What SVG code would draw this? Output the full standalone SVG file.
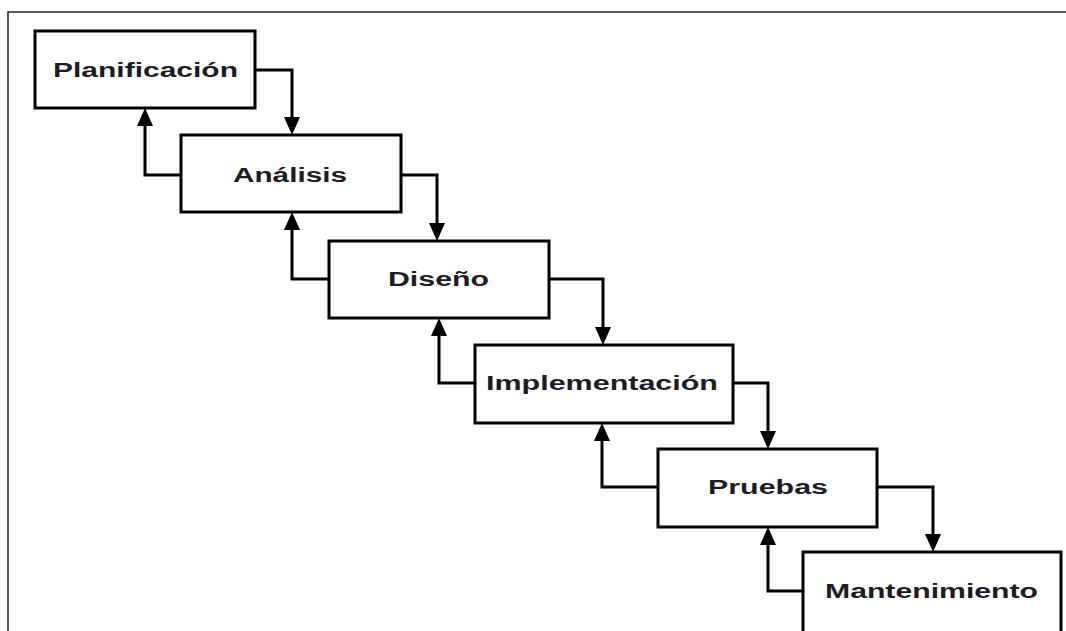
<svg xmlns="http://www.w3.org/2000/svg" width="1066" height="631" viewBox="0 0 1066 631">
  <style>
    .box { fill: #ffffff; stroke: #000000; stroke-width: 3; }
    .lbl { font-family: "Liberation Sans", Arial, sans-serif; font-weight: bold; font-size: 20px; fill: #1c1c26; text-anchor: middle; }
    .con { fill: none; stroke: #000000; stroke-width: 3; marker-end: url(#ah); }
    .frame { fill: none; stroke: #222222; stroke-width: 1.5; }
  </style>
  <defs>
    <marker id="ah" viewBox="0 0 18 16" refX="0" refY="8" markerWidth="18" markerHeight="16" markerUnits="userSpaceOnUse" orient="auto">
      <path d="M0,0 L18,8 L0,16 z" fill="#000000"/>
    </marker>
  </defs>
  <rect x="0" y="0" width="1066" height="631" fill="#ffffff"/>
  <path class="frame" d="M1066,12 H8 V631"/>

  <g id="planificacion">
    <rect class="box" x="35" y="31" width="220" height="77"/>
    <text class="lbl" x="145.5" y="77" textLength="185" lengthAdjust="spacingAndGlyphs">Planificación</text>
  </g>
  <g id="analisis">
    <rect class="box" x="181" y="135" width="220" height="77"/>
    <text class="lbl" x="290" y="182" textLength="114" lengthAdjust="spacingAndGlyphs">Análisis</text>
  </g>
  <g id="diseno">
    <rect class="box" x="329" y="241" width="220" height="77"/>
    <text class="lbl" x="438.5" y="286" textLength="101" lengthAdjust="spacingAndGlyphs">Diseño</text>
  </g>
  <g id="implementacion">
    <rect class="box" x="475" y="345" width="258" height="78"/>
    <text class="lbl" x="602" y="390" textLength="232" lengthAdjust="spacingAndGlyphs">Implementación</text>
  </g>
  <g id="pruebas">
    <rect class="box" x="658" y="449" width="219" height="78"/>
    <text class="lbl" x="768" y="494" textLength="120" lengthAdjust="spacingAndGlyphs">Pruebas</text>
  </g>
  <g id="mantenimiento">
    <rect class="box" x="803" y="552" width="258" height="90"/>
    <text class="lbl" x="931.5" y="598" textLength="213" lengthAdjust="spacingAndGlyphs">Mantenimiento</text>
  </g>

  <g id="connectors">
    <path class="con" d="M255,70 H292 V117"/>
    <path class="con" d="M181,175 H145 V126"/>
    <path class="con" d="M401,175 H437 V223"/>
    <path class="con" d="M329,279 H292 V230"/>
    <path class="con" d="M549,279 H603 V327"/>
    <path class="con" d="M475,383 H439 V336"/>
    <path class="con" d="M733,383 H768 V431"/>
    <path class="con" d="M658,487 H602 V441"/>
    <path class="con" d="M877,487 H933 V534"/>
    <path class="con" d="M803,591 H768 V545"/>
  </g>
</svg>
